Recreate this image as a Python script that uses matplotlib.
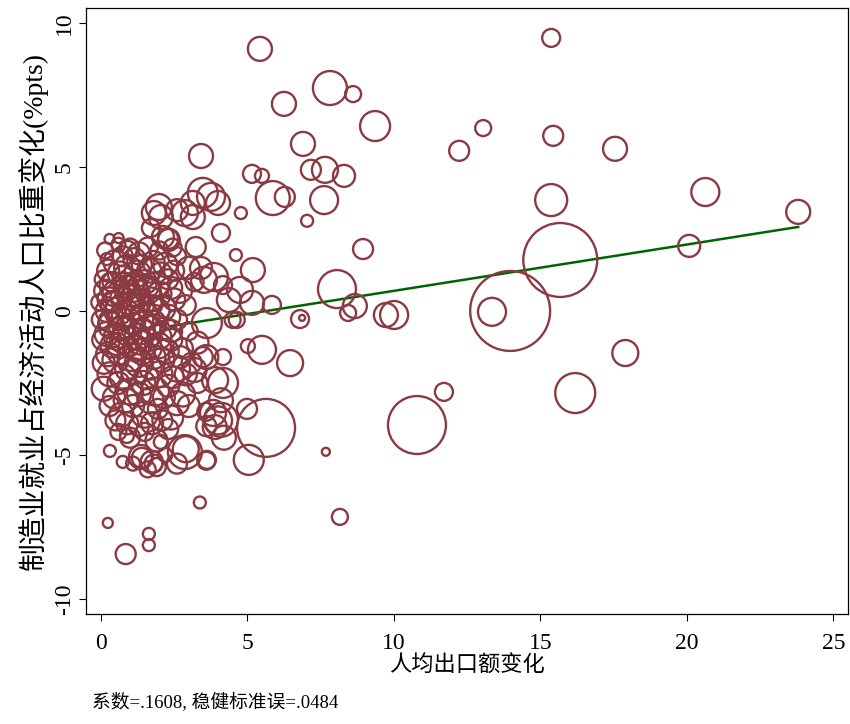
import numpy as np
import matplotlib
matplotlib.use("Agg")
import matplotlib.pyplot as plt

plt.rcParams['font.family'] = ['Liberation Serif', 'Noto Sans CJK SC']
plt.rcParams['axes.unicode_minus'] = False

# 分散する点 (x: 人均出口额变化, y: 比重变化, w: 权重)
out_x = [5.43, 15.37, 7.82, 8.61, 6.25, 9.36, 13.05, 15.44, 12.23, 17.55,
         6.90, 3.42, 5.16, 5.50, 5.87, 6.28, 7.17, 7.65, 8.30, 7.62,
         7.04, 8.95, 8.06, 8.67, 8.44, 9.73, 10.01, 13.97, 13.35, 15.68,
         15.37, 20.63, 23.80, 20.08, 17.90, 16.19, 10.79, 11.71, 7.68, 8.16,
         6.46, 5.50, 5.02, 5.64, 5.05, 4.99, 6.80, 6.87, 4.64, 5.16,
         5.84, 3.38, 0.24, 0.85, 1.64, 1.64, 0.75, 0.31, 2.87, 4.10,
         1.37, 1.74, 1.91, 3.62, 2.05, 0.89]
out_y = [9.10, 9.48, 7.74, 7.53, 7.19, 6.42, 6.35, 6.08, 5.56, 5.63,
         5.80, 5.38, 4.76, 4.69, 3.92, 3.96, 4.90, 4.90, 4.69, 3.85,
         3.13, 2.15, 0.76, 0.17, -0.07, -0.14, -0.14, 0.00, -0.03, 1.77,
         3.85, 4.13, 3.44, 2.26, -1.46, -2.85, -3.96, -2.81, -4.89, -7.15,
         -1.81, -1.35, -1.22, -4.06, -5.17, -3.40, -0.28, -0.24, -0.31, 0.28,
         0.21, -6.65, -7.36, -8.44, -7.74, -8.13, -5.24, -4.86, -4.90, -3.78,
         -5.07, -5.24, -5.42, -5.17, -4.55, -4.34]
out_w = [144, 81, 289, 64, 144, 225, 64, 100, 100, 144,
         144, 144, 81, 49, 289, 100, 100, 169, 121, 196,
         36, 100, 361, 144, 64, 144, 196, 1600, 196, 1369,
         256, 196, 144, 121, 169, 400, 841, 81, 16, 64,
         169, 196, 49, 841, 225, 100, 81, 9, 64, 144,
         81, 36, 25, 100, 36, 36, 36, 36, 289, 289,
         144, 121, 81, 81, 49, 49]

# 上方の弧
arc_x = [3.48, 3.76, 3.14, 4.00, 4.78, 1.98, 1.81, 2.05, 3.14, 4.10,
         1.71, 2.32, 3.24, 0.61, 0.92, 2.12, 4.61, 5.19, 3.86, 3.42,
         3.52, 2.87, 4.37, 4.75, 4.17, 3.62, 4.50, 4.17, 3.83, 3.89,
         3.48, 4.17, 3.20, 2.60]
arc_y = [4.10, 3.96, 3.75, 3.75, 3.40, 3.61, 3.40, 3.26, 3.26, 2.71,
         2.88, 2.47, 2.22, 2.53, 2.12, 2.57, 1.94, 1.42, 1.18, 1.49,
         1.08, 3.40, 0.38, 0.73, 0.90, -0.42, -0.31, -2.50, -3.54, -4.03,
         -1.60, -1.60, -2.05, 3.50]
arc_w = [225, 196, 144, 144, 36, 169, 144, 144, 144, 81,
         81, 121, 100, 25, 81, 121, 36, 144, 196, 121,
         169, 169, 144, 169, 81, 225, 64, 225, 169, 144,
         100, 64, 144, 121]

# 密集部
core_x = [0.30, 0.60, 1.00, 1.30, 2.30, 2.00,
          0.20, 0.50, 0.90, 1.40, 1.80, 2.20, 2.60, 3.00,
          0.10, 0.40, 0.80, 1.10, 1.50, 1.90, 2.30, 2.70, 3.20,
          -0.05, 0.30, 0.60, 1.00, 1.30, 1.70, 2.10, 2.50, 2.90,
          0.00, 0.35, 0.70, 1.05, 1.40, 1.80, 2.20, 2.60, 3.00,
          0.05, 0.40, 0.80, 1.20, 1.55, 1.95, 2.40, 2.80, 3.30,
          0.10, 0.50, 0.90, 1.30, 1.70, 2.10, 2.60, 3.10, 3.60,
          0.10, 0.60, 1.00, 1.45, 1.85, 2.30, 2.80, 3.30, 3.90,
          0.30, 0.70, 1.10, 1.50, 1.95, 2.40, 3.00, 3.60, 4.10, 4.00,
          0.60, 1.00, 1.50, 1.90, 2.30, 2.90, 3.60, 4.20,
          1.40, 1.80, 1.60, 2.20, 1.10, 3.60, 2.60]
core_y = [2.50, 2.30, 2.20, 2.00, 2.50, 2.10,
          1.80, 1.70, 1.50, 1.60, 1.70, 1.60, 1.90, 1.50,
          1.10, 0.90, 1.20, 0.80, 1.00, 0.90, 1.10, 0.70, 1.00,
          0.30, 0.40, 0.00, 0.50, 0.20, 0.40, 0.10, 0.40, 0.20,
          -0.30, -0.50, -0.60, -0.30, -0.70, -0.40, -0.60, -0.30, -0.70,
          -1.00, -1.20, -1.00, -1.30, -1.00, -1.20, -1.00, -1.30, -1.10,
          -1.80, -1.70, -2.00, -1.80, -2.00, -1.70, -2.00, -1.80, -1.60,
          -2.70, -2.50, -2.80, -2.50, -2.80, -2.60, -2.90, -2.50, -2.40,
          -3.30, -3.60, -3.30, -3.60, -3.40, -3.70, -3.30, -3.50, -3.10, -3.80,
          -4.20, -4.40, -4.20, -4.50, -4.10, -4.80, -4.00, -4.40,
          -5.10, -5.30, -5.50, -5.00, -5.30, -5.20, -5.30]
core_w = [25, 49, 81, 121, 100, 81,
          36, 144, 169, 100, 121, 144, 81, 121,
          81, 169, 121, 196, 144, 169, 100, 144, 81,
          64, 144, 196, 169, 225, 144, 169, 121, 100,
          81, 169, 144, 196, 169, 144, 121, 100, 81,
          100, 144, 196, 169, 144, 169, 121, 100, 121,
          121, 169, 144, 196, 121, 144, 169, 100, 144,
          144, 121, 169, 144, 196, 121, 144, 100, 169,
          100, 144, 121, 169, 100, 144, 121, 81, 144, 196,
          64, 100, 81, 121, 100, 169, 100, 144,
          100, 81, 64, 49, 49, 81, 100]

# 密集部 (second layer)
fill_x = [0.15, 0.75, 1.15, 1.60, 2.45,
          0.25, 0.65, 1.25, 1.65, 2.05, 2.50,
          0.15, 0.50, 0.90, 1.20, 1.60, 2.00, 2.40,
          0.20, 0.45, 0.85, 1.15, 1.50, 1.90, 2.30,
          0.20, 0.55, 0.90, 1.25, 1.60, 2.00, 2.40,
          0.25, 0.65, 1.05, 1.40, 1.80, 2.25, 2.70,
          0.30, 0.75, 1.15, 1.55, 2.00, 2.45, 2.90,
          0.45, 0.85, 1.30, 1.70, 2.15, 2.60,
          0.50, 0.90, 1.30, 1.75, 2.10,
          0.40, 0.70, 1.00, 1.35, 1.75, 0.30, 0.65, 1.10, 1.45, 1.85,
          0.55, 0.95, 1.35, 1.70, 0.40, 0.80, 1.20, 1.60]
fill_y = [2.10, 1.90, 1.80, 2.20, 2.20,
          1.40, 1.30, 1.30, 1.40, 1.30, 1.40,
          0.70, 0.60, 0.80, 0.60, 0.70, 0.60, 0.80,
          0.00, 0.20, -0.10, 0.10, -0.20, 0.00, -0.20,
          -0.80, -0.90, -0.70, -0.90, -0.60, -0.90, -0.70,
          -1.50, -1.40, -1.60, -1.40, -1.60, -1.40, -1.60,
          -2.20, -2.30, -2.10, -2.30, -2.20, -2.30, -2.20,
          -3.00, -3.10, -2.90, -3.10, -3.00, -3.20,
          -3.80, -3.90, -4.00, -3.90, -3.80,
          0.35, 0.45, 0.25, 0.35, 0.20, -0.35, -0.25, -0.45, -0.30, -0.50,
          -1.15, -1.25, -1.10, -1.30, 1.00, 0.95, 1.05, 0.85]
fill_w = [64, 100, 121, 100, 81,
          121, 144, 169, 144, 121, 100,
          121, 169, 144, 196, 169, 144, 121,
          121, 169, 196, 169, 196, 169, 144,
          144, 169, 196, 169, 169, 144, 121,
          144, 169, 196, 169, 144, 144, 121,
          144, 169, 169, 144, 169, 121, 121,
          121, 144, 144, 169, 121, 144,
          100, 121, 100, 121, 100,
          100, 121, 144, 121, 100, 121, 144, 121, 100, 121,
          121, 100, 144, 121, 100, 121, 100, 121]

x = np.array(out_x + arc_x + core_x + fill_x)
y = np.array(out_y + arc_y + core_y + fill_y)
w = np.array(out_w + arc_w + core_w + fill_w)

# 回帰直線 (visible part starts where the cluster thins out)
slope = 0.1608
intercept = -0.91
fit_from = 2.4
note = "系数=.1608, 稳健标准误=.0484"

fig = plt.figure(figsize=(8.5, 7.24), dpi=100)
ax = fig.add_axes([0.101, 0.152, 0.897, 0.837])

line_x = np.array([fit_from, x.max()])
ax.plot(line_x, intercept + slope * line_x, color='#006400', lw=1.8, zorder=1)
ax.scatter(x, y, s=w * 2.07, facecolors='none', edgecolors='#8B3A42',
           linewidths=1.7, zorder=2)

ax.set_xlim(-0.51, 25.51)
ax.set_ylim(-10.52, 10.52)
ax.set_xticks([0, 5, 10, 15, 20, 25])
ax.set_yticks([-10, -5, 0, 5, 10])
ax.tick_params(axis='both', direction='out', length=5, width=0.8, labelsize=17)
ax.tick_params(axis='x', pad=9)
ax.tick_params(axis='y', pad=3)
for lab in ax.get_yticklabels():
    lab.set_rotation(90)
    lab.set_va('center')

ax.set_xlabel("人均出口额变化", fontsize=16, labelpad=1)
ax.set_ylabel("制造业就业占经济活动人口比重变化(%pts)", fontsize=20, labelpad=4)
for sp in ax.spines.values():
    sp.set_linewidth(0.9)

fig.text(0.108, 0.022, note, fontsize=13.5)

fig.savefig("out.png", dpi=100)
